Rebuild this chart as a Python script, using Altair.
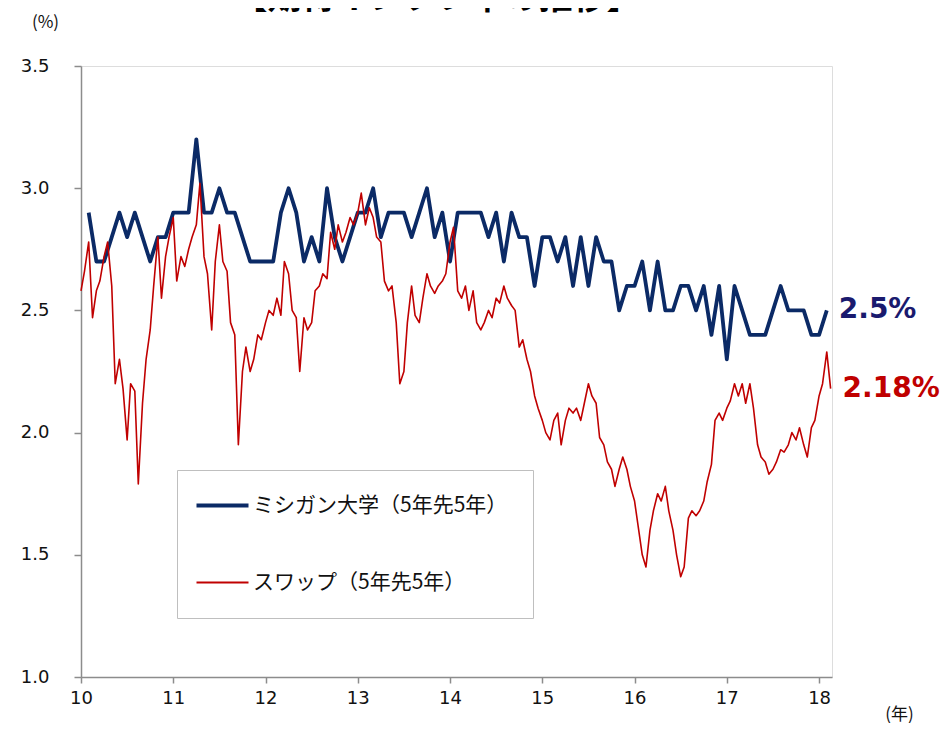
import altair as alt
import pandas as pd

# ---- data ----
title_text = "【期待インフレ率の推移】"
mich_label = "ミシガン大学（5年先5年）"
swap_label = "スワップ（5年先5年）"

# University of Michigan 5y5y inflation expectations, monthly from Feb 2010
mich_values = [
    2.9, 2.7, 2.7, 2.8, 2.9, 2.8, 2.9, 2.8, 2.7, 2.8, 2.8, 2.9,
    2.9, 2.9, 3.2, 2.9, 2.9, 3.0, 2.9, 2.9, 2.8, 2.7, 2.7, 2.7,
    2.7, 2.9, 3.0, 2.9, 2.7, 2.8, 2.7, 3.0, 2.8, 2.7, 2.8, 2.9,
    2.9, 3.0, 2.8, 2.9, 2.9, 2.9, 2.8, 2.9, 3.0, 2.8, 2.9, 2.7,
    2.9, 2.9, 2.9, 2.9, 2.8, 2.9, 2.7, 2.9, 2.8, 2.8, 2.6, 2.8,
    2.8, 2.7, 2.8, 2.6, 2.8, 2.6, 2.8, 2.7, 2.7, 2.5, 2.6, 2.6,
    2.7, 2.5, 2.7, 2.5, 2.5, 2.6, 2.6, 2.5, 2.6, 2.4, 2.6, 2.3,
    2.6, 2.5, 2.4, 2.4, 2.4, 2.5, 2.6, 2.5, 2.5, 2.5, 2.4, 2.4,
    2.5,
]

# 5y5y inflation swap, semi-monthly readings from Jan 2010
swap_values = [
    2.58, 2.66, 2.78, 2.47, 2.58, 2.62, 2.72, 2.78, 2.60, 2.20,
    2.30, 2.18, 1.97, 2.20, 2.17, 1.79, 2.12, 2.30, 2.42, 2.60,
    2.80, 2.55, 2.72, 2.80, 2.88, 2.62, 2.72, 2.68, 2.75, 2.80,
    2.85, 3.02, 2.72, 2.65, 2.42, 2.70, 2.85, 2.70, 2.66, 2.45,
    2.40, 1.95, 2.25, 2.35, 2.25, 2.30, 2.40, 2.38, 2.45, 2.50,
    2.48, 2.55, 2.48, 2.70, 2.65, 2.50, 2.47, 2.25, 2.47, 2.42,
    2.45, 2.58, 2.60, 2.65, 2.63, 2.82, 2.75, 2.85, 2.78, 2.82,
    2.88, 2.85, 2.90, 2.98, 2.85, 2.92, 2.88, 2.80, 2.78, 2.62,
    2.58, 2.60, 2.45, 2.20, 2.25, 2.45, 2.60, 2.48, 2.45, 2.55,
    2.65, 2.60, 2.57, 2.60, 2.62, 2.65, 2.78, 2.84, 2.58, 2.55,
    2.60, 2.50, 2.58, 2.45, 2.42, 2.45, 2.50, 2.47, 2.55, 2.53,
    2.60, 2.55, 2.52, 2.50, 2.35, 2.38, 2.30, 2.25, 2.15, 2.10,
    2.05, 2.00, 1.97, 2.05, 2.08, 1.95, 2.05, 2.10, 2.08, 2.10,
    2.05, 2.12, 2.20, 2.15, 2.12, 1.98, 1.95, 1.88, 1.85, 1.78,
    1.85, 1.90, 1.85, 1.78, 1.72, 1.62, 1.50, 1.45, 1.60, 1.68,
    1.75, 1.72, 1.78, 1.68, 1.60, 1.50, 1.41, 1.45, 1.65, 1.68,
    1.66, 1.68, 1.72, 1.80, 1.87, 2.05, 2.08, 2.05, 2.10, 2.13,
    2.20, 2.15, 2.20, 2.12, 2.20, 2.10, 1.95, 1.90, 1.88, 1.83,
    1.85, 1.88, 1.93, 1.92, 1.95, 2.00, 1.97, 2.02, 1.95, 1.90,
    2.02, 2.05, 2.15, 2.20, 2.33, 2.18,
]

year_ticks = [10, 11, 12, 13, 14, 15, 16, 17, 18]
value_ticks = [1.0, 1.5, 2.0, 2.5, 3.0, 3.5]

NAVY = "#0b2a66"
RED = "#c00000"


def frac_year(dates):
    return [d.year - 2000 + (d.month - 1) / 12 + (d.day - 1) / d.days_in_month / 12 for d in dates]


mich_dates = pd.date_range("2010-02-01", periods=len(mich_values), freq="MS")
swap_dates = pd.date_range("2010-01-01", periods=len(swap_values), freq="SMS")

df = pd.concat([
    pd.DataFrame({"x": frac_year(mich_dates), "value": mich_values, "series": mich_label}),
    pd.DataFrame({"x": frac_year(swap_dates), "value": swap_values, "series": swap_label}),
], ignore_index=True)

end_df = pd.DataFrame({
    "x": [frac_year(mich_dates)[-1], frac_year(swap_dates)[-1]],
    "value": [mich_values[-1], swap_values[-1]],
    "label": [f"{mich_values[-1]}%", f"{swap_values[-1]:.2f}%"],
    "series": [mich_label, swap_label],
})

xscale = alt.Scale(domain=[10, 18.14], nice=False, zero=False)
yscale = alt.Scale(domain=[1.0, 3.5], nice=False, zero=False)

legend = alt.Legend(
    title=None, orient="none", legendX=96, legendY=404,
    symbolType="stroke", symbolSize=2704, symbolOffset=10,
    symbolStrokeWidth={"expr": f"datum.value === '{mich_label}' ? 4 : 1.8"},
    labelFont="Noto Sans CJK JP", labelFontSize=21, labelColor="#111111",
    labelOffset=20, labelLimit=500, rowPadding=55, padding=25,
    strokeColor="#bfbfbf", fillColor="white", cornerRadius=0,
)

lines = alt.Chart(df).mark_line(strokeJoin="round").encode(
    x=alt.X("x:Q", scale=xscale, axis=alt.Axis(
        values=year_ticks, format="d", title="(年)",
        titleX=818, titleY=37, titleAlign="center", titleBaseline="middle",
        titleFont="Noto Sans CJK JP", titleFontSize=17, titleFontWeight="normal",
        titleColor="#111111", labelFont="DejaVu Sans", labelFontSize=18,
        labelColor="#111111", labelPadding=6, tickSize=6, tickColor="#8c8c8c",
        domainColor="#8c8c8c", domainWidth=1.5, tickWidth=1.5, grid=False,
        labelFlush=False)),
    y=alt.Y("value:Q", scale=yscale, axis=alt.Axis(
        values=value_ticks, format=".1f", title="(%)",
        titleAngle=0, titleX=-36, titleY=-44, titleAlign="center", titleBaseline="middle",
        titleFont="Noto Sans CJK JP", titleFontSize=17, titleFontWeight="normal",
        titleColor="#111111", labelFont="DejaVu Sans", labelFontSize=18,
        labelColor="#111111", labelPadding=25, tickSize=7, tickColor="#8c8c8c",
        domainColor="#8c8c8c", domainWidth=1.5, tickWidth=1.5, grid=False,
        labelFlush=False)),
    color=alt.Color("series:N", scale=alt.Scale(domain=[mich_label, swap_label], range=[NAVY, RED]),
                    legend=legend),
    strokeWidth=alt.StrokeWidth("series:N", scale=alt.Scale(domain=[mich_label, swap_label], range=[3.8, 1.6]),
                                legend=None),
)

labels = alt.Chart(end_df).mark_text(
    align="left", baseline="middle", dx=12, font="DejaVu Sans", fontSize=28, fontWeight="bold"
).encode(
    x=alt.X("x:Q", scale=xscale),
    y=alt.Y("value:Q", scale=yscale),
    text="label:N",
    color=alt.Color("series:N", scale=alt.Scale(domain=[mich_label, swap_label], range=["#1a1a6e", RED]),
                    legend=None),
)

# chart heading, mostly above the top edge of the page as in the reference
heading = alt.Chart(pd.DataFrame({"t": [title_text]})).mark_text(
    align="center", baseline="alphabetic", font="Noto Sans CJK JP", fontSize=34,
    fontWeight="bold", color="#000000"
).encode(text="t:N", x=alt.value(356), y=alt.value(-57))

chart = alt.layer(lines, labels, heading).resolve_scale(color="independent").properties(
    width=751, height=611,
    autosize=alt.AutoSizeParams(type="none"),
    padding={"left": 73, "top": 58, "right": 108, "bottom": 46},
).configure_view(stroke=None).configure(background="white")

chart.save("out.html", embed_options={"renderer": "svg", "actions": False})
